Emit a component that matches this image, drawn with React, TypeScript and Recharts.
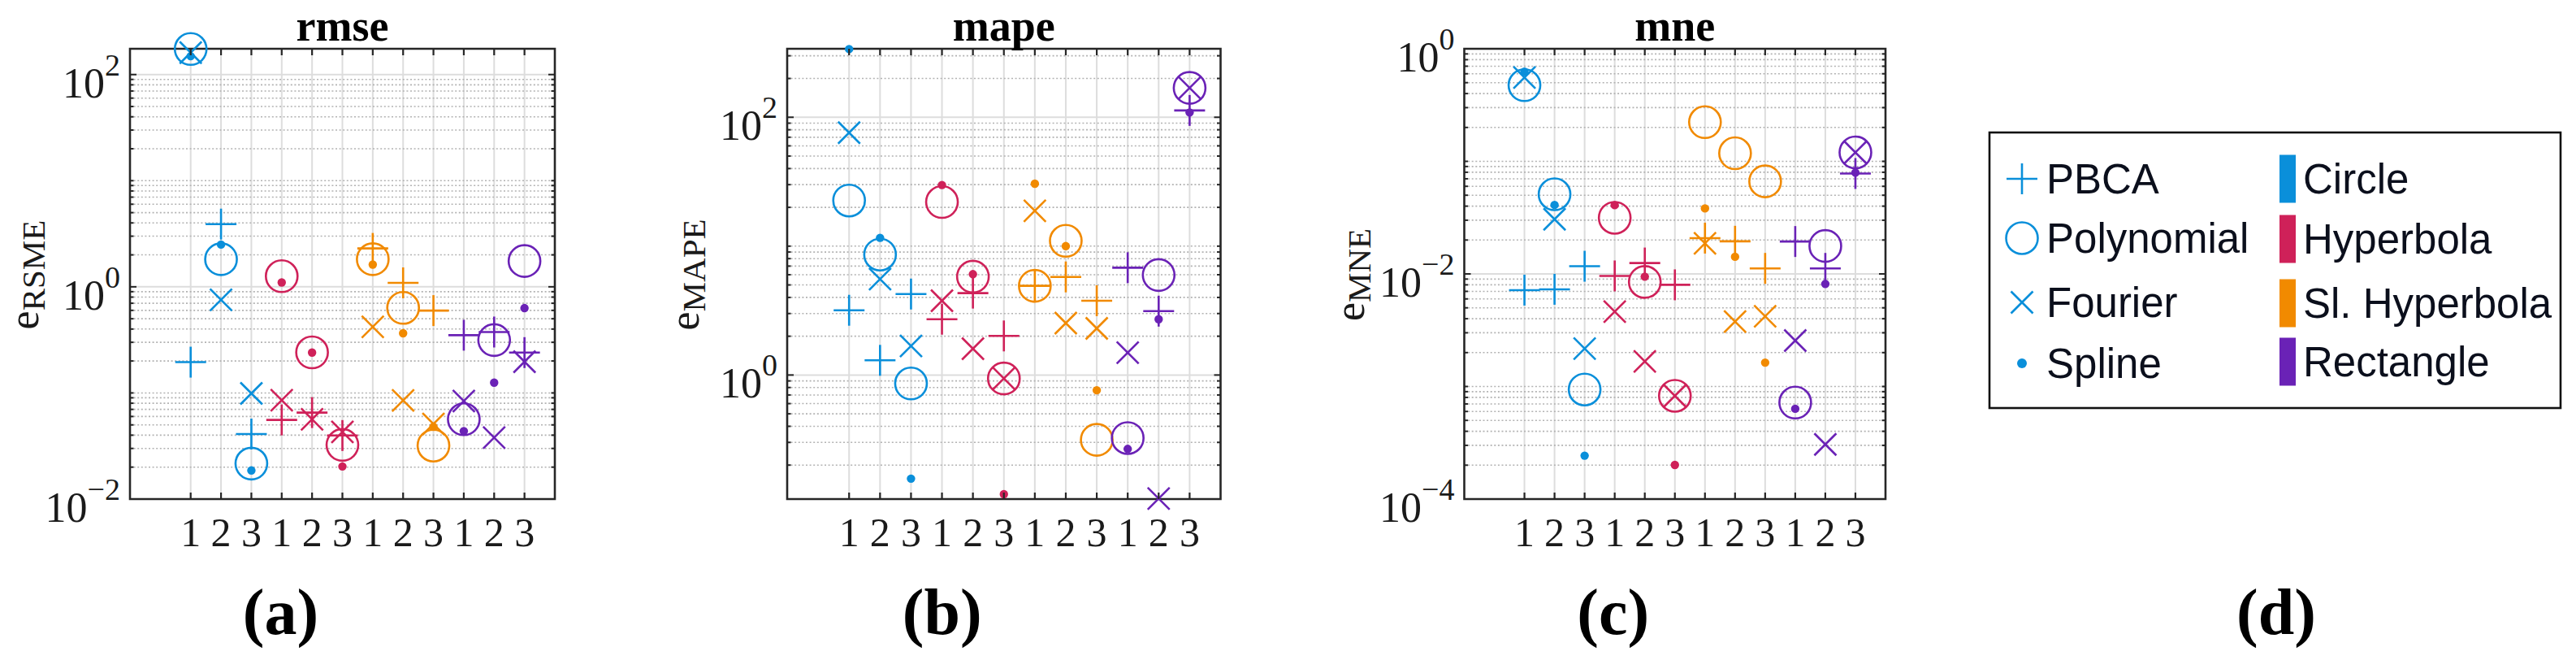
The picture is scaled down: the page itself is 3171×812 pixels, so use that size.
import React from 'react';
import { ScatterChart, Scatter, XAxis, YAxis, CartesianGrid, ReferenceArea } from 'recharts';

// ---------- categories / labels ----------
const positions = [1, 2, 3, 4, 5, 6, 7, 8, 9, 10, 11, 12];
const xTickLabels = ['1', '2', '3', '1', '2', '3', '1', '2', '3', '1', '2', '3'];
const shapeNames = ['Circle', 'Hyperbola', 'Sl. Hyperbola', 'Rectangle'];
const shapeColors = ['#0A8FDA', '#CF2159', '#F18A00', '#6A22B6'];
const methodNames = ['PBCA', 'Polynomial', 'Fourier', 'Spline'];
const methodKinds = ['plus', 'circle', 'cross', 'dot'];
const panelTitles = ['rmse', 'mape', 'mne'];
const panelYSub = ['RSME', 'MAPE', 'MNE'];
const panelLetters = ['(a)', '(b)', '(c)', '(d)'];

// ---------- rmse ----------
const rmsePBCA = [0.195, 3.9, 0.041, 0.0557, 0.0653, 0.0397, 2.3, 1.09, 0.597, 0.35, 0.375, 0.24];
const rmsePoly = [174, 1.82, 0.0216, 1.26, 0.241, 0.0324, 1.82, 0.633, 0.0319, 0.0565, 0.315, 1.75];
const rmseFourier = [161, 0.755, 0.099, 0.0855, 0.0565, 0.0429, 0.42, 0.085, 0.051, 0.084, 0.038, 0.197];
const rmseSpline = [149, 2.5, 0.0186, 1.1, 0.24, 0.0203, 1.62, 0.365, 0.048, 0.0437, 0.125, 0.63];
const rmseDomain = [0.01, 175];
const rmseLabeledExp = [-2, 0, 2];

// ---------- mape ----------
const mapePBCA = [3.18, 1.3, 4.25, 2.71, 4.32, 2.01, 4.92, 5.77, 3.77, 6.8, 3.13, 113];
const mapePoly = [22.6, 8.6, 0.86, 22, 5.8, 0.94, 4.92, 11.0, 0.314, 0.324, 5.97, 169];
const mapeFourier = [75.9, 5.55, 1.68, 3.77, 1.6, 0.94, 18.8, 2.53, 2.3, 1.49, 0.11, 169];
const mapeSpline = [338, 11.6, 0.157, 29.8, 6.06, 0.119, 30.5, 10.0, 0.762, 0.267, 2.71, 109];
const mapeDomain = [0.109, 340];
const mapeLabeledExp = [0, 2];

// ---------- mne ----------
const mnePBCA = [0.00718, 0.0073, 0.0117, 0.0096, 0.0125, 0.008, 0.0208, 0.0195, 0.0112, 0.0194, 0.0112, 0.078];
const mnePoly = [0.475, 0.051, 0.00094, 0.0315, 0.00848, 0.000826, 0.223, 0.118, 0.0664, 0.00072, 0.0177, 0.12];
const mneFourier = [0.555, 0.0306, 0.00217, 0.00463, 0.00167, 0.000826, 0.0187, 0.00377, 0.0042, 0.00256, 0.000306, 0.12];
const mneSpline = [0.625, 0.041, 0.000243, 0.0408, 0.00946, 0.000201, 0.0382, 0.0142, 0.00163, 0.000634, 0.00815, 0.0794];
const mneDomain = [0.0001, 1];
const mneLabeledExp = [-4, -2, 0];

// ---------- styles ----------
const SERIF = '"Liberation Serif", "Times New Roman", Times, serif';
const SANS = '"Liberation Sans", Arial, Helvetica, sans-serif';
const AXIS = '#262626';
const TXT = '#1a1a1a';
const H = 812;
const PLOT_TOP = 60;
const PLOT_H = 554;
const XAXIS_H = 30;
const YAXIS_W = 60;

function minorValues(domain: number[], labeledExp: number[]) {
  const out: number[] = [];
  const e0 = Math.floor(Math.log10(domain[0])) - 1;
  const e1 = Math.ceil(Math.log10(domain[1])) + 1;
  for (let e = e0; e <= e1; e++) {
    for (let m = 1; m <= 9; m++) {
      if (m === 1 && labeledExp.includes(e)) continue;
      const v = parseFloat((m * Math.pow(10, e)).toPrecision(6));
      if (v > domain[0] * 1.0001 && v < domain[1] * 0.9999) out.push(v);
    }
  }
  return out;
}

function markerPath(kind: string, cx: number, cy: number, c: string, scale = 1) {
  const sw = 2.6;
  if (kind === 'plus') {
    const a = 19 * scale;
    return (
      <g>
        <line x1={cx - a} y1={cy} x2={cx + a} y2={cy} stroke={c} strokeWidth={sw} />
        <line x1={cx} y1={cy - a} x2={cx} y2={cy + a} stroke={c} strokeWidth={sw} />
      </g>
    );
  }
  if (kind === 'circle') {
    return <circle cx={cx} cy={cy} r={19.5 * scale} fill="none" stroke={c} strokeWidth={sw} />;
  }
  if (kind === 'cross') {
    const a = 13.5 * scale;
    return (
      <g>
        <line x1={cx - a} y1={cy - a} x2={cx + a} y2={cy + a} stroke={c} strokeWidth={sw} />
        <line x1={cx - a} y1={cy + a} x2={cx + a} y2={cy - a} stroke={c} strokeWidth={sw} />
      </g>
    );
  }
  return <circle cx={cx} cy={cy} r={5.2 * scale} fill={c} stroke="none" />;
}

function rows(vals: number[]) {
  return positions.map((p, i) => ({ x: p, y: vals[i], color: shapeColors[Math.floor(i / 3)] }));
}

function XTick(props: any) {
  const { x, y, payload } = props;
  const idx = positions.indexOf(payload.value);
  return (
    <g>
      <line x1={x} y1={y} x2={x} y2={y - 8} stroke={AXIS} strokeWidth={2.2} />
      <line x1={x} y1={y - PLOT_H} x2={x} y2={y - PLOT_H + 8} stroke={AXIS} strokeWidth={2.2} />
      <text x={x} y={y + 58} textAnchor="middle" fontFamily={SERIF} fontSize={50} fill={TXT}>
        {xTickLabels[idx]}
      </text>
    </g>
  );
}

function makeYTick(plotW: number, labeledExp: number[]) {
  return (props: any) => {
    const { x, y, payload } = props;
    const v = payload.value;
    const lg = Math.log10(v);
    const e = Math.round(lg);
    const isLab = Math.abs(lg - e) < 1e-6 && labeledExp.includes(e);
    const len = isLab ? 8 : 4.5;
    return (
      <g>
        <line x1={x} y1={y} x2={x + len} y2={y} stroke={AXIS} strokeWidth={2} />
        <line x1={x + plotW} y1={y} x2={x + plotW - len} y2={y} stroke={AXIS} strokeWidth={2} />
        {isLab && (
          <text x={x - 12} y={y + 28} textAnchor="end" fontFamily={SERIF} fontSize={52} fill={TXT}>
            10
            <tspan dy={-27} fontSize={38}>
              {e < 0 ? '\u2212' + String(-e) : String(e)}
            </tspan>
          </text>
        )}
      </g>
    );
  };
}

type PanelProps = {
  left: number;
  width: number;
  plotLeft: number;
  plotRight: number;
  domain: number[];
  labeledExp: number[];
  series: number[][];
};

function Panel({ left, width, plotLeft, plotRight, domain, labeledExp, series }: PanelProps) {
  const mLeft = plotLeft - YAXIS_W;
  const mRight = width - plotRight;
  const plotW = plotRight - plotLeft;
  const minor = minorValues(domain, labeledExp);
  const major = labeledExp.map((e) => Math.pow(10, e));
  const yTicks = [...minor, ...major].sort((a, b) => a - b);
  const YTick = makeYTick(plotW, labeledExp);
  return (
    <div style={{ position: 'absolute', left, top: 0, width, height: H }}>
      <ScatterChart
        width={width}
        height={H}
        margin={{ top: PLOT_TOP, right: mRight, bottom: H - PLOT_TOP - PLOT_H - XAXIS_H, left: mLeft }}
      >
        <CartesianGrid horizontal={false} verticalValues={positions} stroke="#dddddd" strokeWidth={2} />
        <CartesianGrid
          vertical={false}
          horizontalValues={minor}
          stroke="#b2b2b2"
          strokeWidth={1.6}
          strokeDasharray="2 2.6"
        />
        <CartesianGrid vertical={false} horizontalValues={major} stroke="#dddddd" strokeWidth={2} />
        <XAxis
          type="number"
          dataKey="x"
          domain={[-1, 13]}
          ticks={positions}
          interval={0}
          tickLine={false}
          axisLine={false}
          tickSize={0}
          tickMargin={0}
          height={XAXIS_H}
          tick={(p: any) => <XTick {...p} />}
        />
        <YAxis
          type="number"
          dataKey="y"
          scale="log"
          domain={domain}
          ticks={yTicks}
          interval={0}
          tickLine={false}
          axisLine={false}
          tickSize={0}
          tickMargin={0}
          width={YAXIS_W}
          tick={(p: any) => <YTick {...p} />}
        />
        <ReferenceArea
          x1={-1}
          x2={13}
          y1={domain[0]}
          y2={domain[1]}
          fill="none"
          fillOpacity={0}
          stroke={AXIS}
          strokeWidth={2.6}
          ifOverflow="visible"
        />
        {series.map((vals, k) => (
          <Scatter
            key={methodNames[k]}
            name={methodNames[k]}
            data={rows(vals)}
            isAnimationActive={false}
            shape={(p: any) => markerPath(methodKinds[k], p.cx, p.cy, p.payload.color)}
          />
        ))}
      </ScatterChart>
    </div>
  );
}

const panelGeom = [
  { left: 0, width: 720, plotLeft: 160, plotRight: 683 },
  { left: 700, width: 820, plotLeft: 269, plotRight: 802.5 },
  { left: 1520, width: 820, plotLeft: 282.5, plotRight: 801 },
];

function Overlay() {
  const yLabelX = [47, 860, 1679];
  return (
    <svg
      width={3171}
      height={H}
      style={{ position: 'absolute', left: 0, top: 0, pointerEvents: 'none' }}
    >
      {panelGeom.map((g, i) => {
        const cx = g.left + (g.plotLeft + g.plotRight) / 2;
        return (
          <g key={i}>
            <text x={cx} y={50} textAnchor="middle" fontFamily={SERIF} fontWeight="bold" fontSize={54} fill="#000">
              {panelTitles[i]}
            </text>
            <text
              transform={`translate(${yLabelX[i]},338) rotate(-90)`}
              textAnchor="middle"
              fontFamily={SERIF}
              fontSize={52}
              fill={TXT}
            >
              e
              <tspan dy={8} fontSize={41}>
                {panelYSub[i]}
              </tspan>
            </text>
            <text x={cx - 76} y={780} textAnchor="middle" fontFamily={SERIF} fontWeight="bold" fontSize={80} fill="#000">
              {panelLetters[i]}
            </text>
          </g>
        );
      })}
      <text x={2802} y={780} textAnchor="middle" fontFamily={SERIF} fontWeight="bold" fontSize={80} fill="#000">
        {panelLetters[3]}
      </text>
      {/* legend */}
      <rect x={2449} y={163} width={703} height={339} fill="#fff" stroke="#111" strokeWidth={2.6} />
      {methodNames.map((m, i) => {
        const cy = [220, 293, 372, 447][i];
        return (
          <g key={m}>
            {markerPath(methodKinds[i], 2489, cy, shapeColors[0], i === 3 ? 1.15 : 1)}
            <text x={2519} y={cy + 18} fontFamily={SANS} fontSize={51} fill="#0b0f1c">
              {m}
            </text>
          </g>
        );
      })}
      {shapeNames.map((s, i) => {
        const cy = [220, 294, 373, 445][i];
        return (
          <g key={s}>
            <rect x={2806} y={cy - 29.5} width={20} height={59} fill={shapeColors[i]} />
            <text x={2835} y={cy + 18} fontFamily={SANS} fontSize={51} fill="#0b0f1c">
              {s}
            </text>
          </g>
        );
      })}
    </svg>
  );
}

export default function App() {
  return (
    <div style={{ position: 'absolute', left: 0, top: 0, width: 3171, height: H, background: '#fff' }}>
      <Panel
        {...panelGeom[0]}
        domain={rmseDomain}
        labeledExp={rmseLabeledExp}
        series={[rmsePBCA, rmsePoly, rmseFourier, rmseSpline]}
      />
      <Panel
        {...panelGeom[1]}
        domain={mapeDomain}
        labeledExp={mapeLabeledExp}
        series={[mapePBCA, mapePoly, mapeFourier, mapeSpline]}
      />
      <Panel
        {...panelGeom[2]}
        domain={mneDomain}
        labeledExp={mneLabeledExp}
        series={[mnePBCA, mnePoly, mneFourier, mneSpline]}
      />
      <Overlay />
    </div>
  );
}
